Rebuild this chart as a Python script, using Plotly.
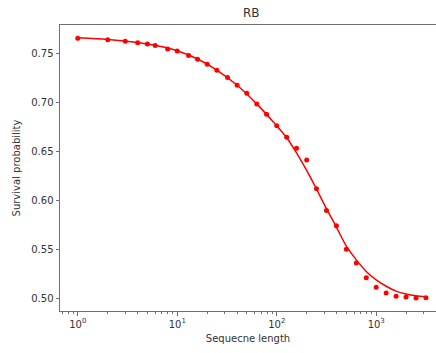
import plotly.graph_objects as go

# Measured survival probability for each sequence length
seq_len = [1, 2, 3, 4, 5, 6, 8, 10, 13, 16, 20, 25, 32, 40, 50, 63, 79, 100,
           126, 158, 200, 251, 316, 398, 501, 631, 794, 1000, 1259, 1585,
           1995, 2512, 3162]
survival = [0.7657, 0.7643, 0.7627, 0.7612, 0.7599, 0.7582, 0.7548, 0.7528,
            0.7480, 0.7443, 0.7392, 0.7330, 0.7255, 0.7177, 0.7095, 0.6986,
            0.6880, 0.6761, 0.6645, 0.6533, 0.6413, 0.6117, 0.5895, 0.5738,
            0.5500, 0.5357, 0.5207, 0.5111, 0.5050, 0.5019, 0.5009, 0.5000,
            0.5002]

# Fitted decay curve
fit_len = [1, 2, 4, 6, 10, 16, 25, 40, 63, 100, 126, 158, 200, 251, 316, 398,
           501, 631, 794, 1000, 1259, 1585, 1995, 2512, 3162]
fit_val = [0.7662, 0.7645, 0.7614, 0.7585, 0.7530, 0.7445, 0.7332, 0.7177,
           0.6986, 0.6761, 0.6640, 0.6485, 0.6305, 0.6115, 0.5915, 0.5725,
           0.5530, 0.5390, 0.5272, 0.5185, 0.5120, 0.5070, 0.5040, 0.5022,
           0.5013]

x_major = [1, 10, 100, 1000]
x_major_text = ["10<sup>0</sup>", "10<sup>1</sup>", "10<sup>2</sup>", "10<sup>3</sup>"]
x_minor = [m * 10 ** e for e in range(-1, 4) for m in range(2, 10)]
y_ticks = [0.50, 0.55, 0.60, 0.65, 0.70, 0.75]

W, H = 436, 353
L, R, T, B = 59.5, 0, 25, 42
font = dict(family="DejaVu Sans", size=10, color="#333333")
axis_col = "#707070"

fig = go.Figure()
fig.add_trace(go.Scatter(
    x=seq_len, y=survival, mode="markers",
    marker=dict(color="#ff0000", size=5, line=dict(width=0)),
    showlegend=False))
fig.add_trace(go.Scatter(
    x=fit_len, y=fit_val, mode="lines",
    line=dict(color="#ff0000", width=1.5, shape="spline", smoothing=0.8),
    showlegend=False))

fig.update_layout(
    width=W, height=H,
    margin=dict(l=L, r=R, t=T, b=B, pad=0),
    paper_bgcolor="white", plot_bgcolor="white",
    font=font,
    title=dict(text="RB", x=(251 - L) / (W - L), xref="paper", xanchor="center",
               y=1 - 13 / H, yref="container", yanchor="middle",
               font=dict(family="DejaVu Sans", size=12, color="#333333")),
)
fig.update_xaxes(
    type="log", range=[-0.179, 3.601],
    showgrid=False, zeroline=False,
    showline=True, linecolor=axis_col, linewidth=1, mirror=True,
    tickmode="array", tickvals=x_major, ticktext=x_major_text,
    ticks="outside", ticklen=3.5, tickwidth=0.8, tickcolor=axis_col,
    tickfont=font,
    minor=dict(tickmode="array", tickvals=x_minor, ticks="outside",
               ticklen=2, tickwidth=0.6, tickcolor=axis_col, showgrid=False),
    title=dict(text="Sequecne length", font=font, standoff=6),
)
fig.update_yaxes(
    range=[0.4867, 0.7793],
    showgrid=False, zeroline=False,
    showline=True, linecolor=axis_col, linewidth=1, mirror=False,
    tickmode="array", tickvals=y_ticks, tickformat=".2f",
    ticks="outside", ticklen=3.5, tickwidth=0.8, tickcolor=axis_col,
    tickfont=font,
    title=dict(text="Survival probability", font=font, standoff=8),
)

fig.write_html("out.html")
